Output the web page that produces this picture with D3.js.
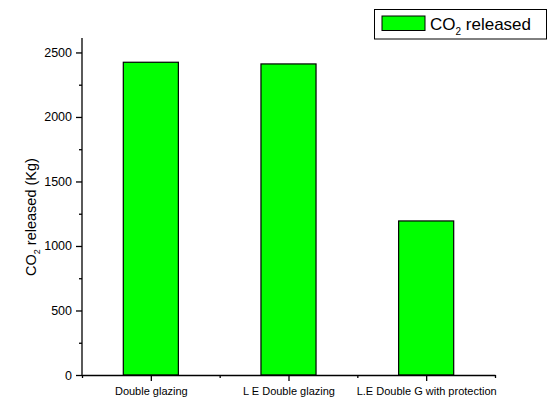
<!DOCTYPE html>
<html>
<head>
<meta charset="utf-8">
<script src="https://cdn.jsdelivr.net/npm/d3@7"></script>
<style>
  body { margin: 0; background: #fff; }
  svg { display: block; font-family: "Liberation Sans", Arial, sans-serif; }
</style>
</head>
<body>
<svg id="chart" width="548" height="399"></svg>
<script>
// Glazing options and the CO2 they release (kg)
const categories = ["Double glazing", "L E Double glazing", "L.E Double G with protection"];
const co2Released = [2424, 2411, 1194];
const yMajorTicks = [0, 500, 1000, 1500, 2000, 2500];
const yMinorTicks = [250, 750, 1250, 1750, 2250];

const svg = d3.select("#chart");
const plot = { left: 82, right: 495, top: 38, bottom: 375 };
const fontFamily = "Liberation Sans, Arial, sans-serif";

// Categories sit at 1..3 on a linear axis running 0.5..3.5
const x = d3.scaleLinear().domain([0.5, 3.5]).range([plot.left, plot.right]);
const y = d3.scaleLinear().domain([0, 2612]).range([plot.bottom, plot.top]);
const barWidth = 0.4;

// Bars
svg.append("g").selectAll("rect")
  .data(co2Released)
  .join("rect")
  .attr("x", (d, i) => x(i + 1 - barWidth / 2))
  .attr("width", (d, i) => x(i + 1 + barWidth / 2) - x(i + 1 - barWidth / 2))
  .attr("y", d => y(d))
  .attr("height", d => y(0) - y(d))
  .attr("fill", "#00ff00")
  .attr("stroke", "#000")
  .attr("stroke-width", 1.2);

// Y axis: major ticks with labels, minor ticks without
const yAxis = svg.append("g").attr("transform", `translate(${plot.left},0)`)
  .call(d3.axisLeft(y).tickValues(yMajorTicks).tickFormat(d3.format("d"))
    .tickSize(6).tickPadding(4).tickSizeOuter(0));
svg.append("g").attr("transform", `translate(${plot.left},0)`)
  .call(d3.axisLeft(y).tickValues(yMinorTicks).tickSize(3).tickFormat("").tickSizeOuter(0))
  .select(".domain").remove();
yAxis.select(".domain").attr("d", `M0,${y(0)}V${plot.top}`);

// X axis: category ticks with labels, minor ticks between them
const xAxis = svg.append("g").attr("transform", `translate(0,${plot.bottom})`)
  .call(d3.axisBottom(x).tickValues([1, 2, 3]).tickSize(6).tickPadding(6)
    .tickFormat(d => categories[d - 1]).tickSizeOuter(0));
svg.append("g").attr("transform", `translate(0,${plot.bottom})`)
  .call(d3.axisBottom(x).tickValues([0.5, 1.5, 2.5, 3.5]).tickSize(3).tickFormat("").tickSizeOuter(0))
  .select(".domain").remove();

svg.selectAll("g").attr("font-family", fontFamily);
svg.selectAll(".domain, .tick line").attr("stroke", "#000").attr("stroke-width", 1.3);
yAxis.selectAll(".tick text").attr("font-size", 12.5).attr("fill", "#000");
xAxis.selectAll(".tick text").attr("font-size", 11).attr("fill", "#000");

// Y axis title
const yTitle = svg.append("text")
  .attr("transform", "translate(36,217) rotate(-90)")
  .attr("text-anchor", "middle")
  .attr("font-size", 14.5)
  .attr("font-family", fontFamily)
  .attr("fill", "#000");
yTitle.append("tspan").text("CO");
yTitle.append("tspan").attr("font-size", 9).attr("dy", 4).text("2");
yTitle.append("tspan").attr("dy", -4).text(" released (Kg)");

// Legend
const legend = svg.append("g").attr("font-family", fontFamily);
legend.append("rect")
  .attr("x", 374.5).attr("y", 9.5).attr("width", 172).attr("height", 29.5)
  .attr("fill", "#fff").attr("stroke", "#000").attr("stroke-width", 1);
legend.append("rect")
  .attr("x", 382).attr("y", 16).attr("width", 43).attr("height", 14.5)
  .attr("fill", "#00ff00").attr("stroke", "#000").attr("stroke-width", 1);
const legText = legend.append("text")
  .attr("x", 430).attr("y", 29.5)
  .attr("font-size", 17).attr("fill", "#000");
legText.append("tspan").text("CO");
legText.append("tspan").attr("font-size", 10).attr("dy", 5).text("2");
legText.append("tspan").attr("dy", -5).text(" released");
</script>
</body>
</html>
